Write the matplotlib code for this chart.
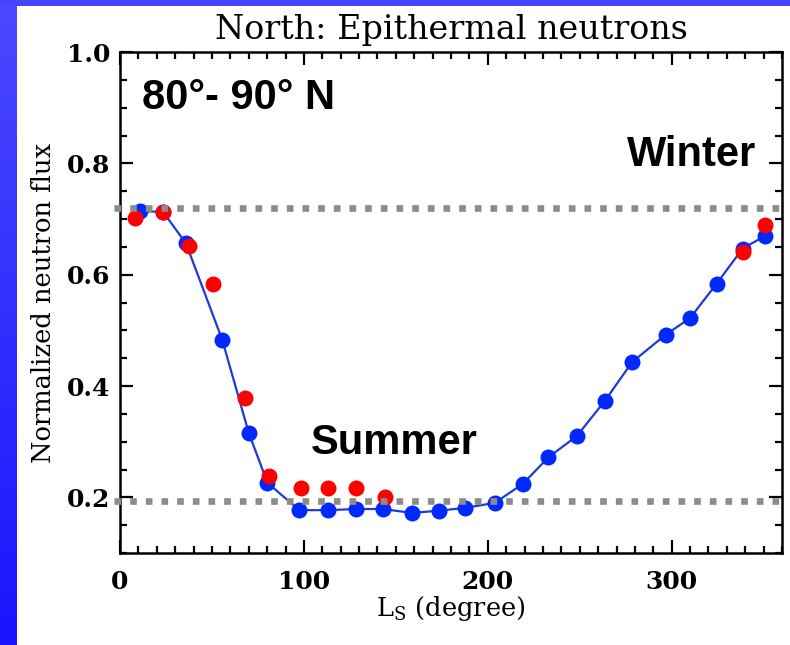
import numpy as np
import matplotlib
matplotlib.use("Agg")
import matplotlib.pyplot as plt
from matplotlib.colors import LinearSegmentedColormap

# ---- data ----
blue_ls = [10.9, 23.4, 35.9, 55.6, 70.0, 80.2, 97.5, 113.2, 128.3, 143.0, 158.7, 173.4,
           187.5, 203.8, 219.0, 233.0, 248.4, 263.6, 278.5, 296.7, 310.0, 324.5, 338.6, 350.5]
blue_flux = [0.714, 0.713, 0.656, 0.483, 0.316, 0.226, 0.177, 0.177, 0.179, 0.179, 0.172, 0.176,
             0.181, 0.190, 0.224, 0.272, 0.310, 0.373, 0.443, 0.492, 0.522, 0.584, 0.647, 0.669]
red_ls = [8.2, 23.4, 37.6, 50.4, 67.9, 81.0, 98.4, 113.2, 128.3, 144.0, 338.6, 350.5]
red_flux = [0.701, 0.712, 0.651, 0.584, 0.379, 0.239, 0.217, 0.217, 0.217, 0.200, 0.640, 0.690]
winter_level = 0.719
summer_level = 0.194

title = "North: Epithermal neutrons"
ylabel = "Normalized neutron flux"
region_label = "80°- 90° N"
x_ticks = [0, 100, 200, 300]
y_ticks = [0.2, 0.4, 0.6, 0.8, 1.0]

plt.rcParams["font.family"] = ["DejaVu Serif"]

W, H = 790, 645
fig = plt.figure(figsize=(W / 100, H / 100), dpi=100)
fig.patch.set_facecolor("white")

# blue slide border (left gradient band + thin top band)
band = fig.add_axes([0, 0, 17 / W, 1])
grad = np.linspace(0, 1, 256).reshape(-1, 1)
cm = LinearSegmentedColormap.from_list("b", ["#4a48ff", "#1a14ff"])
band.imshow(grad, aspect="auto", cmap=cm, extent=[0, 1, 0, 1], origin="upper")
band.set_axis_off()
top = fig.add_axes([0, 1 - 6 / H, 1, 6 / H])
top.set_facecolor("#4644ff")
top.set_xticks([]); top.set_yticks([])
for s in top.spines.values():
    s.set_visible(False)

ax = fig.add_axes([120 / W, 1 - 553 / H, (782 - 120) / W, (553 - 52) / H])
serif = "DejaVu Serif"

ax.plot(blue_ls, blue_flux, "-", color="#1f3ad6", lw=1.6, zorder=2)
ax.plot(blue_ls, blue_flux, "o", color="#0028ff", ms=11.5, mec="none", zorder=3)
ax.plot(red_ls, red_flux, "o", color="#ff0000", ms=11.5, mec="none", zorder=4)

for lvl in (winter_level, summer_level):
    ax.plot([-3, 360], [lvl, lvl], color="#8c8c8c", lw=4.8, linestyle=(0, (1, 1.35)),
            dash_capstyle="butt", clip_on=False, zorder=5)

ax.set_xlim(0, 360)
ax.set_ylim(0.1, 1.0)
ax.set_xticks(x_ticks)
ax.set_yticks(y_ticks)
ax.set_xticklabels([str(v) for v in x_ticks], fontsize=18, weight="bold", family=serif)
ax.set_yticklabels([f"{v:.1f}" for v in y_ticks], fontsize=18, weight="bold", family=serif)
ax.set_xticks(np.arange(0, 361, 10), minor=True)
ax.set_yticks(np.arange(0.1, 1.0001, 0.05), minor=True)
ax.tick_params(which="both", direction="in", top=True, right=True, width=1.6, colors="black")
ax.tick_params(which="major", length=9.5)
ax.tick_params(which="minor", length=5)
ax.tick_params(axis="x", which="major", pad=12)
ax.tick_params(axis="y", which="major", pad=7)
for s in ax.spines.values():
    s.set_linewidth(1.8)

ax.set_ylabel(ylabel, family=serif, fontsize=18.5, labelpad=8)
ax.set_xlabel(r"L$_\mathregular{S}$ (degree)", family=serif, fontsize=18.5, labelpad=0)

fig.text(451 / W, 1 - 30 / H, title, family=serif, fontsize=24, ha="center", va="center")

ax.text(12, 0.917, region_label, family="Liberation Sans", weight="bold", fontsize=30,
        ha="left", va="center")
ax.text(104, 0.298, "Summer", family="Liberation Sans", weight="bold", fontsize=30,
        ha="left", va="center")
ax.text(346, 0.815, "Winter", family="Liberation Sans", weight="bold", fontsize=30,
        ha="right", va="center")

fig.savefig("out.png", dpi=100)
